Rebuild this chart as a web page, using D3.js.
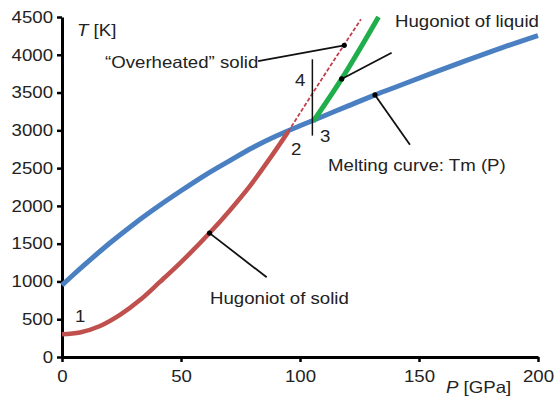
<!DOCTYPE html>
<html>
<head>
<meta charset="utf-8">
<script src="https://cdn.jsdelivr.net/npm/d3@7"></script>
<style>
  body { margin: 0; background: #fff; }
  text { font-family: "Liberation Sans", Arial, sans-serif; fill: #222; }
</style>
</head>
<body>
<script>
// melting curve Tm(P)
var meltP = [0, 5, 10, 20, 30, 40, 50, 60, 70, 80, 90, 100, 110, 120, 130, 140, 155, 170, 185, 200];
var meltT = [950, 1095, 1235, 1505, 1755, 1985, 2200, 2405, 2590, 2770, 2925, 3060, 3190, 3320, 3450, 3570, 3750, 3925, 4095, 4255];

// hugoniot of solid
var solidP = [0, 7.5, 16, 24.5, 33, 41, 49.5, 62, 70.5, 79, 87.5, 93.5, 95];
var solidT = [300, 325, 410, 560, 760, 990, 1240, 1640, 1940, 2265, 2635, 2910, 2980];

// "overheated" solid (dashed continuation)
var overP = [95, 110, 125.6];
var overT = [2980, 3720, 4470];

// hugoniot of liquid
var liqP = [105.6, 117.5, 133];
var liqT = [3120, 3680, 4500];

// vertical marker between 3 and 4
var markP = [105.2, 105.2];
var markT = [2930, 3940];

var xTicks = [0, 50, 100, 150, 200];
var yTicks = [0, 500, 1000, 1500, 2000, 2500, 3000, 3500, 4000, 4500];

// leader lines: [P, T] of label end, [P, T] of dot on curve
var leaders = [
  [[82.4, 3917], [118.6, 4125]],
  [[138.5, 4026], [117.5, 3680]],
  [[146.2, 2810], [131.5, 3468]],
  [[86, 1055], [62, 1640]]
];

var full_width = 560, full_height = 398;
var margin = {top: 17, right: 22, bottom: 41, left: 62};
var width = full_width - margin.left - margin.right,
    height = full_height - margin.top - margin.bottom;
var sx = 1.13; // text in the picture is a bit wide

var svg = d3.select("body").append("svg")
  .attr("width", full_width)
  .attr("height", full_height);

var g = svg.append("g")
  .attr("transform", "translate(" + margin.left + "," + margin.top + ")");

var x = d3.scaleLinear().domain([0, 200]).range([0, width]);
var y = d3.scaleLinear().domain([0, 4500]).range([height, 0]);

var toPts = function(ps, ts) { return ps.map(function(p, i) { return [p, ts[i]]; }); };
var line = d3.line()
  .x(function(d) { return x(d[0]); })
  .y(function(d) { return y(d[1]); })
  .curve(d3.curveMonotoneX);

// axes
var xAxis = g.append("g")
  .attr("transform", "translate(0," + height + ")")
  .call(d3.axisBottom(x).tickValues(xTicks).tickSize(5).tickPadding(8).tickSizeOuter(0));
var yAxis = g.append("g")
  .call(d3.axisLeft(y).tickValues(yTicks).tickFormat(d3.format("d")).tickSize(5).tickPadding(4).tickSizeOuter(0));

[xAxis, yAxis].forEach(function(ax) {
  ax.select(".domain").attr("stroke", "#000").attr("stroke-width", 3);
  ax.selectAll(".tick line").attr("stroke", "#000").attr("stroke-width", 2.5);
  ax.selectAll(".tick text")
    .attr("font-family", "Liberation Sans, Arial, sans-serif")
    .attr("font-size", 16.5)
    .attr("fill", "#222");
});
xAxis.selectAll(".tick text").attr("transform", "scale(" + sx + ",1)");
yAxis.selectAll(".tick text")
  .attr("x", -9 / sx)
  .attr("transform", "scale(" + sx + ",1)");

// curves
g.append("path").datum(toPts(meltP, meltT))
  .attr("d", line).attr("fill", "none")
  .attr("stroke", "#4a80c2").attr("stroke-width", 5);

g.append("path").datum(toPts(solidP, solidT))
  .attr("d", line).attr("fill", "none")
  .attr("stroke", "#c0504d").attr("stroke-width", 4.5);

g.append("path").datum(toPts(overP, overT))
  .attr("d", line).attr("fill", "none")
  .attr("stroke", "#c0404a").attr("stroke-width", 1.8)
  .attr("stroke-dasharray", "4,2");

g.append("path").datum(toPts(liqP, liqT))
  .attr("d", line).attr("fill", "none")
  .attr("stroke", "#1fae4b").attr("stroke-width", 5);

g.append("path").datum(toPts(markP, markT))
  .attr("d", d3.line().x(function(d) { return x(d[0]); }).y(function(d) { return y(d[1]); }))
  .attr("fill", "none").attr("stroke", "#111").attr("stroke-width", 1.5);

// leaders + dots
g.selectAll(".leader").data(leaders).enter().append("line")
  .attr("class", "leader")
  .attr("x1", function(d) { return x(d[0][0]); })
  .attr("y1", function(d) { return y(d[0][1]); })
  .attr("x2", function(d) { return x(d[1][0]); })
  .attr("y2", function(d) { return y(d[1][1]); })
  .attr("stroke", "#111").attr("stroke-width", 1.8);

g.selectAll(".dot").data(leaders).enter().append("circle")
  .attr("class", "dot")
  .attr("cx", function(d) { return x(d[1][0]); })
  .attr("cy", function(d) { return y(d[1][1]); })
  .attr("r", 2.6).attr("fill", "#000");

// labels (page coords)
var label = function(px, py, txt) {
  return svg.append("text")
    .attr("transform", "translate(" + px + "," + py + ") scale(" + sx + ",1)")
    .attr("font-size", 16.5)
    .text(txt);
};

var tl = svg.append("text")
  .attr("transform", "translate(77,36) scale(" + sx + ",1)")
  .attr("font-size", 16.5);
tl.append("tspan").attr("font-style", "italic").text("T");
tl.append("tspan").text(" [K]");

var pl = svg.append("text")
  .attr("transform", "translate(446,393) scale(" + sx + ",1)")
  .attr("font-size", 16.5);
pl.append("tspan").attr("font-style", "italic").text("P");
pl.append("tspan").text(" [GPa]");

label(105, 68, "\u201cOverheated\u201d solid");
label(395, 27, "Hugoniot of liquid");
label(328, 171, "Melting curve: Tm (P)");
label(210, 304, "Hugoniot of solid");
label(75, 322, "1");
label(291, 155, "2");
label(320, 142, "3");
label(295, 86, "4");
</script>
</body>
</html>
